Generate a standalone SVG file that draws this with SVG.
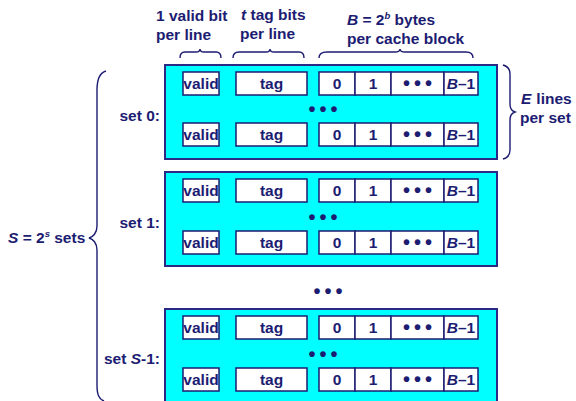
<svg xmlns="http://www.w3.org/2000/svg" width="576" height="401" viewBox="0 0 576 401">
<style>
text{font-family:"Liberation Sans",Arial,sans-serif;font-weight:bold;fill:#1c1c72;font-size:15.5px}
.c{text-anchor:middle}
.r{text-anchor:end}
.setbox{fill:#00ffff;stroke:#2a2a86;stroke-width:2}
.cell{fill:#ffffff;stroke:#1c1c72;stroke-width:1.5}
.brace{fill:none;stroke:#1c1c72;stroke-width:1.4}
.dots{font-size:20px;letter-spacing:4px;text-anchor:middle}
</style>
<rect width="576" height="401" fill="#ffffff"/>

<g id="header-labels">
<text x="156" y="21">1 valid bit</text>
<text x="156" y="40">per line</text>
<text x="241" y="20"><tspan font-style="italic">t</tspan> tag bits</text>
<text x="240" y="39">per line</text>
<text x="347" y="25"><tspan font-style="italic">B</tspan> = 2<tspan font-size="9.5" dy="-6" font-style="italic">b</tspan><tspan dy="6"> bytes</tspan></text>
<text x="347" y="44">per cache block</text>
<text x="521" y="104"><tspan font-style="italic">E</tspan><tspan dx="5">lines</tspan></text>
<text x="520" y="123">per set</text>
<text x="8" y="243"><tspan font-style="italic">S</tspan> = 2<tspan font-size="9.5" dy="-6" font-style="italic">s</tspan><tspan dy="6"> sets</tspan></text>
</g>

<g id="connectors">
<path class="brace" d="M180,58 C180,54 181,52 185,52 L196,52 C198,52 200,51 200,49 C200,51 202,52 204,52 L216,52 C220,52 221,54 221,58"/>
<path class="brace" d="M233,58 C233,54 235,52 239,52 L266,52 C268,52 270,51 270,49 C270,51 272,52 274,52 L299,52 C303,52 304,54 304,58"/>
<path class="brace" d="M319,58 C319,54 322,52 327,52 L395,52 C398,52 400,51 400,49 C400,51 402,52 405,52 L466,52 C470,52 473,54 473,58"/>
<path class="brace" d="M503,65 C507,66 510,69 510,74 L510,104 C510,108 512,111 515,112 C512,113 510,116 510,120 L510,150 C510,155 507,158 503,159"/>
<path class="brace" d="M106,71 C99,73 97,80 97,90 L97,226 C97,233 93,237 89,238 C93,239 97,243 97,250 L97,385 C97,395 99,399 104,401"/>
</g>

<g id="set0">
<text class="r" x="160" y="121">set 0:</text>
<rect class="setbox" x="165" y="65" width="332" height="94"/>
<rect class="cell" x="183" y="72" width="36" height="23"/><rect class="cell" x="236" y="72" width="71" height="23"/>
<rect class="cell" x="319" y="72" width="36" height="23"/><rect class="cell" x="355" y="72" width="36" height="23"/><rect class="cell" x="391" y="72" width="53" height="23"/><rect class="cell" x="444" y="72" width="34" height="23"/>
<text class="c" x="201" y="89">valid</text><text class="c" x="271.5" y="89">tag</text><text class="c" x="337" y="89">0</text><text class="c" x="373" y="89">1</text><text class="dots" x="419.5" y="90">•••</text><text class="c" x="461" y="89"><tspan font-style="italic">B</tspan>–1</text>
<text class="dots" x="325" y="116">•••</text>
<rect class="cell" x="183" y="123" width="36" height="23"/><rect class="cell" x="236" y="123" width="71" height="23"/>
<rect class="cell" x="319" y="123" width="36" height="23"/><rect class="cell" x="355" y="123" width="36" height="23"/><rect class="cell" x="391" y="123" width="53" height="23"/><rect class="cell" x="444" y="123" width="34" height="23"/>
<text class="c" x="201" y="140">valid</text><text class="c" x="271.5" y="140">tag</text><text class="c" x="337" y="140">0</text><text class="c" x="373" y="140">1</text><text class="dots" x="419.5" y="141">•••</text><text class="c" x="461" y="140"><tspan font-style="italic">B</tspan>–1</text>
</g>

<g id="set1">
<text class="r" x="160" y="228">set 1:</text>
<rect class="setbox" x="165" y="172" width="332" height="94"/>
<rect class="cell" x="183" y="179" width="36" height="23"/><rect class="cell" x="236" y="179" width="71" height="23"/>
<rect class="cell" x="319" y="179" width="36" height="23"/><rect class="cell" x="355" y="179" width="36" height="23"/><rect class="cell" x="391" y="179" width="53" height="23"/><rect class="cell" x="444" y="179" width="34" height="23"/>
<text class="c" x="201" y="196">valid</text><text class="c" x="271.5" y="196">tag</text><text class="c" x="337" y="196">0</text><text class="c" x="373" y="196">1</text><text class="dots" x="419.5" y="197">•••</text><text class="c" x="461" y="196"><tspan font-style="italic">B</tspan>–1</text>
<text class="dots" x="325" y="224">•••</text>
<rect class="cell" x="183" y="231" width="36" height="23"/><rect class="cell" x="236" y="231" width="71" height="23"/>
<rect class="cell" x="319" y="231" width="36" height="23"/><rect class="cell" x="355" y="231" width="36" height="23"/><rect class="cell" x="391" y="231" width="53" height="23"/><rect class="cell" x="444" y="231" width="34" height="23"/>
<text class="c" x="201" y="248">valid</text><text class="c" x="271.5" y="248">tag</text><text class="c" x="337" y="248">0</text><text class="c" x="373" y="248">1</text><text class="dots" x="419.5" y="249">•••</text><text class="c" x="461" y="248"><tspan font-style="italic">B</tspan>–1</text>
</g>

<g id="gap-dots">
<text class="dots" x="330" y="298">•••</text>
</g>

<g id="setS-1">
<text class="r" x="160" y="364">set <tspan font-style="italic">S</tspan>-1:</text>
<rect class="setbox" x="165" y="309" width="332" height="94"/>
<rect class="cell" x="183" y="316" width="36" height="23"/><rect class="cell" x="236" y="316" width="71" height="23"/>
<rect class="cell" x="319" y="316" width="36" height="23"/><rect class="cell" x="355" y="316" width="36" height="23"/><rect class="cell" x="391" y="316" width="53" height="23"/><rect class="cell" x="444" y="316" width="34" height="23"/>
<text class="c" x="201" y="333">valid</text><text class="c" x="271.5" y="333">tag</text><text class="c" x="337" y="333">0</text><text class="c" x="373" y="333">1</text><text class="dots" x="419.5" y="334">•••</text><text class="c" x="461" y="333"><tspan font-style="italic">B</tspan>–1</text>
<text class="dots" x="325" y="361">•••</text>
<rect class="cell" x="183" y="368" width="36" height="23"/><rect class="cell" x="236" y="368" width="71" height="23"/>
<rect class="cell" x="319" y="368" width="36" height="23"/><rect class="cell" x="355" y="368" width="36" height="23"/><rect class="cell" x="391" y="368" width="53" height="23"/><rect class="cell" x="444" y="368" width="34" height="23"/>
<text class="c" x="201" y="385">valid</text><text class="c" x="271.5" y="385">tag</text><text class="c" x="337" y="385">0</text><text class="c" x="373" y="385">1</text><text class="dots" x="419.5" y="386">•••</text><text class="c" x="461" y="385"><tspan font-style="italic">B</tspan>–1</text>
</g>
</svg>
